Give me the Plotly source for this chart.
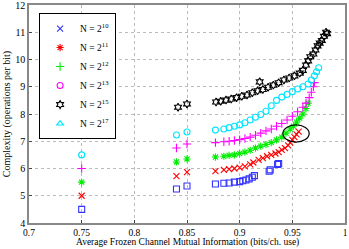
import plotly.graph_objects as go

# N = 2^10
x10 = [0.75, 0.84, 0.85, 0.877, 0.885, 0.89, 0.895, 0.9, 0.903, 0.906, 0.909, 0.912, 0.914, 0.928, 0.929, 0.936, 0.937]
y10 = [4.5, 5.25, 5.36, 5.43, 5.46, 5.47, 5.5, 5.52, 5.55, 5.58, 5.62, 5.68, 5.74, 5.9, 5.95, 6.15, 6.18]
# N = 2^11
x11 = [0.75, 0.84, 0.85, 0.877, 0.885, 0.89, 0.895, 0.9, 0.905, 0.91, 0.913, 0.918, 0.922, 0.926, 0.93, 0.934, 0.937, 0.94, 0.943, 0.946, 0.948, 0.95, 0.952, 0.954, 0.956]
y11 = [5.0, 5.72, 5.87, 5.9, 5.95, 5.98, 6.0, 6.03, 6.08, 6.15, 6.22, 6.32, 6.38, 6.45, 6.5, 6.55, 6.6, 6.68, 6.75, 6.85, 6.95, 7.05, 7.15, 7.25, 7.35]
# N = 2^12
x12 = [0.75, 0.84, 0.85, 0.877, 0.885, 0.89, 0.895, 0.9, 0.905, 0.91, 0.915, 0.92, 0.925, 0.93, 0.935, 0.94, 0.944, 0.948, 0.951, 0.954, 0.957, 0.96, 0.963, 0.965]
y12 = [5.5, 6.24, 6.35, 6.42, 6.45, 6.48, 6.5, 6.55, 6.6, 6.67, 6.75, 6.82, 6.88, 6.95, 7.05, 7.15, 7.3, 7.45, 7.55, 7.7, 7.85, 8.0, 8.2, 8.4]
# N = 2^13
x13 = [0.75, 0.84, 0.85, 0.877, 0.885, 0.89, 0.895, 0.9, 0.905, 0.91, 0.915, 0.92, 0.925, 0.93, 0.935, 0.94, 0.945, 0.95, 0.955, 0.96, 0.963, 0.966, 0.968, 0.97, 0.971]
y13 = [6.0, 6.75, 6.9, 6.95, 6.98, 7.0, 7.03, 7.06, 7.1, 7.15, 7.22, 7.3, 7.38, 7.45, 7.55, 7.65, 7.78, 7.92, 8.08, 8.25, 8.4, 8.6, 8.8, 9.0, 9.15]
# N = 2^15
x15 = [0.75, 0.8415, 0.85, 0.8776, 0.882, 0.887, 0.892, 0.897, 0.902, 0.907, 0.912, 0.917, 0.919, 0.922, 0.927, 0.932, 0.937, 0.942, 0.947, 0.952, 0.957, 0.96, 0.963, 0.965, 0.967, 0.97, 0.972, 0.974, 0.976, 0.978, 0.98, 0.982, 0.983]
y15 = [7.52, 8.25, 8.37, 8.44, 8.47, 8.51, 8.55, 8.6, 8.65, 8.7, 8.78, 8.85, 9.18, 8.9, 8.98, 9.06, 9.15, 9.25, 9.32, 9.4, 9.5, 9.6, 9.8, 9.95, 10.1, 10.2, 10.35, 10.5, 10.6, 10.7, 10.85, 11.0, 10.95]
# N = 2^17
x17 = [0.75, 0.84, 0.85, 0.877, 0.885, 0.89, 0.895, 0.9, 0.905, 0.91, 0.915, 0.92, 0.925, 0.93, 0.935, 0.94, 0.945, 0.95, 0.955, 0.96, 0.965, 0.968, 0.971, 0.973, 0.975]
y17 = [6.5, 7.23, 7.34, 7.41, 7.45, 7.5, 7.55, 7.6, 7.68, 7.78, 7.88, 7.98, 8.1, 8.3, 8.5, 8.62, 8.72, 8.82, 8.92, 9.0, 9.1, 9.25, 9.4, 9.55, 9.7]

x_tickvals = [0.7, 0.75, 0.8, 0.85, 0.9, 0.95, 1.0]
x_ticktext = ["0.7", "0.75", "0.8", "0.85", "0.9", "0.95", "1"]
y_tickvals = [4, 5, 6, 7, 8, 9, 10, 11, 12]
y_ticktext = ["4", "5", "6", "7", "8", "9", "10", "11", "12"]

legend_labels = ["N = 2<sup>10</sup>", "N = 2<sup>11</sup>", "N = 2<sup>12</sup>",
                 "N = 2<sup>13</sup>", "N = 2<sup>15</sup>", "N = 2<sup>17</sup>"]
colors = ["#3333ff", "#ff0000", "#00ee00", "#ff00ff", "#000000", "#00e5ff"]
plot_symbols = ["square-open", "x-thin-open", "asterisk-open", "cross-thin-open", "hexagram-open", "circle-open"]
legend_symbols = ["x-thin-open", "asterisk-open", "cross-thin-open", "circle-open", "hexagram-open", "triangle-up-open"]
series = [(x10, y10), (x11, y11), (x12, y12), (x13, y13), (x15, y15), (x17, y17)]

fig = go.Figure()
for (xs, ys), c, s in zip(series, colors, plot_symbols):
    fig.add_trace(go.Scatter(x=xs, y=ys, mode="markers", showlegend=False,
                             marker=dict(symbol=s, size=6, color=c, line=dict(color=c, width=1.1))))
for lab, c, s in zip(legend_labels, colors, legend_symbols):
    fig.add_trace(go.Scatter(x=[None], y=[None], mode="markers", name=lab,
                             marker=dict(symbol=s, size=6, color=c, line=dict(color=c, width=1.1))))

# ellipse highlighting region
fig.add_shape(type="circle", xref="x", yref="y", x0=0.941, x1=0.966, y0=6.97, y1=7.6,
              line=dict(color="black", width=1.2))

font = "Liberation Serif, Times New Roman, serif"
axis_common = dict(showline=True, mirror=True, linecolor="#888888", linewidth=1.5,
                   ticks="inside", ticklen=3, tickcolor="#444444",
                   showgrid=True, gridcolor="#bbbbbb", griddash="dot", gridwidth=1,
                   zeroline=False, ticklabeloverflow="allow")

fig.add_annotation(text="Average Frozen Channel Mutual Information (bits/ch. use)",
                   xref="paper", yref="paper", x=0.5, y=-0.1193, xanchor="center", yanchor="bottom",
                   showarrow=False, borderpad=0, font=dict(family=font, size=9.5, color="black"))

fig.update_layout(
    width=349, height=249,
    margin=dict(l=29, r=4, t=5, b=26),
    paper_bgcolor="white", plot_bgcolor="white",
    font=dict(family=font, size=10, color="black"),
    showlegend=True,
    legend=dict(x=0.032, y=0.963, xanchor="left", yanchor="top",
                bordercolor="black", borderwidth=1, bgcolor="white",
                font=dict(family=font, size=9.5), tracegroupgap=0, itemwidth=30),
    xaxis=dict(range=[0.7, 1.0], tickvals=x_tickvals, ticktext=x_ticktext,
               automargin=False, tickfont=dict(family=font, size=9.5, color="black"),
               **axis_common),
    yaxis=dict(range=[4, 12], tickvals=y_tickvals, ticktext=y_ticktext,
               title=dict(text="Complexity (operations per bit)",
                          font=dict(family=font, size=10), standoff=3),
               automargin=False, tickfont=dict(family=font, size=10, color="black"),
               **axis_common),
)

fig.write_html("out.html", config={"displayModeBar": False},
               post_script="document.body.style.margin='0px';document.body.style.overflow='hidden';")
